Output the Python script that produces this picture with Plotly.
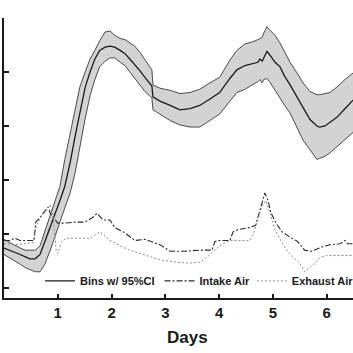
import plotly.graph_objects as go

# ---- data ----
bin_days = [0.00, 0.11, 0.20, 0.30, 0.39, 0.48, 0.58, 0.67, 0.76, 0.86, 0.95, 1.04, 1.13, 1.23,
            1.32, 1.41, 1.51, 1.60, 1.69, 1.78, 1.88, 1.97, 2.06, 2.16, 2.25, 2.34, 2.43, 2.53,
            2.62, 2.71, 2.75, 2.77, 2.90, 3.09, 3.27, 3.46, 3.64, 3.83, 4.01, 4.20, 4.33, 4.48,
            4.63, 4.72, 4.76, 4.80, 4.83, 4.89, 4.94, 5.04, 5.13, 5.22, 5.32, 5.45, 5.56, 5.69,
            5.82, 5.87, 5.97, 6.06, 6.19, 6.34, 6.49]
bin_mean = [23.7, 23.5, 23.3, 23.1, 22.9, 22.7, 22.7, 23.1, 24.3, 25.6, 26.8, 28.1, 29.4, 31.6,
            34.0, 36.3, 38.6, 40.0, 41.2, 42.0, 42.3, 42.4, 42.3, 42.0, 41.7, 41.2, 40.7, 40.1,
            39.5, 39.0, 38.7, 37.7, 37.3, 36.9, 36.5, 36.6, 36.9, 37.5, 38.1, 39.4, 40.2, 40.6,
            40.8, 40.9, 41.2, 41.0, 41.3, 41.9, 41.6, 40.9, 40.5, 39.6, 38.8, 37.7, 36.7, 35.6,
            35.0, 34.9, 35.0, 35.3, 35.8, 36.6, 37.4]
bin_upper = [24.5, 24.2, 23.9, 23.7, 23.5, 23.5, 23.5, 23.9, 25.2, 26.7, 28.0, 29.4, 31.9, 34.4,
             36.6, 38.6, 40.0, 41.2, 42.0, 42.9, 43.7, 43.8, 43.4, 43.1, 43.0, 42.7, 42.4, 41.8,
             41.1, 40.5, 40.2, 38.8, 38.5, 38.3, 38.0, 38.1, 38.4, 39.0, 39.5, 41.1, 42.0, 42.6,
             42.8, 43.0, 43.1, 43.2, 43.6, 44.2, 43.9, 43.4, 42.7, 41.8, 40.9, 39.9, 39.0, 38.2,
             37.9, 37.9, 38.0, 38.1, 38.6, 39.3, 39.9]
bin_lower = [23.1, 22.8, 22.5, 22.2, 21.9, 21.7, 21.5, 21.5, 22.2, 23.5, 24.9, 26.1, 27.4, 28.8,
             30.6, 33.2, 35.7, 37.8, 39.3, 40.5, 41.0, 41.3, 41.3, 40.9, 40.6, 40.0, 39.4, 38.8,
             38.2, 37.8, 37.6, 36.5, 36.1, 35.5, 35.1, 34.9, 34.9, 35.5, 36.1, 37.3, 38.1, 38.4,
             38.8, 39.1, 39.3, 39.0, 39.3, 39.4, 39.1, 38.3, 37.7, 36.9, 36.2, 34.9, 33.7, 32.8,
             31.9, 32.0, 32.2, 32.5, 33.1, 33.7, 34.4]

intake_days = [0.00, 0.11, 0.20, 0.30, 0.39, 0.48, 0.56, 0.59, 0.67, 0.74, 0.82, 0.86, 0.93, 1.00,
               1.13, 1.32, 1.51, 1.64, 1.73, 1.84, 1.97, 2.06, 2.25, 2.43, 2.62, 2.81, 2.90, 3.09,
               3.36, 3.64, 3.87, 3.92, 4.01, 4.20, 4.26, 4.35, 4.57, 4.68, 4.74, 4.80, 4.85, 4.91,
               4.96, 5.06, 5.17, 5.32, 5.46, 5.59, 5.72, 5.82, 5.91, 6.06, 6.25, 6.34, 6.39, 6.49]
intake_air = [24.4, 24.4, 24.6, 24.4, 24.4, 24.4, 24.4, 26.1, 26.5, 27.0, 27.5, 26.9, 26.5, 26.0,
              26.0, 26.1, 26.1, 26.5, 26.9, 26.3, 26.3, 25.6, 25.1, 24.4, 24.5, 24.2, 24.0, 23.4,
              23.4, 23.5, 23.5, 24.3, 24.4, 24.4, 25.2, 25.4, 25.6, 25.8, 26.8, 28.0, 28.8, 28.1,
              27.0, 26.0, 25.2, 24.7, 24.3, 23.5, 23.4, 23.6, 23.8, 24.0, 24.1, 24.4, 24.1, 24.1]

exhaust_days = [0.00, 0.20, 0.39, 0.54, 0.58, 0.67, 0.76, 0.86, 0.91, 0.97, 1.00, 1.06, 1.15, 1.32,
                1.60, 1.69, 1.78, 1.88, 1.97, 2.16, 2.34, 2.53, 2.71, 2.90, 3.18, 3.46, 3.64, 3.74,
                3.83, 3.92, 4.01, 4.11, 4.20, 4.57, 4.63, 4.72, 4.80, 4.87, 4.94, 5.04, 5.19, 5.32,
                5.50, 5.59, 5.69, 5.78, 5.87, 6.00, 6.49]
exhaust_air = [24.1, 24.0, 24.1, 24.2, 25.4, 26.5, 27.0, 27.7, 26.8, 23.5, 23.2, 24.2, 24.6, 24.6,
               24.6, 24.9, 25.2, 24.8, 24.4, 23.9, 23.5, 23.2, 22.9, 22.6, 22.4, 22.3, 22.4, 22.7,
               23.1, 23.5, 23.9, 24.2, 24.4, 24.4, 24.9, 26.3, 27.6, 28.1, 27.0, 25.4, 24.0, 23.1,
               22.3, 21.5, 21.9, 22.3, 22.8, 23.0, 23.0]

series_names = ["Bins w/ 95%CI", "Intake Air", "Exhaust Air"]
x_ticks = [1, 2, 3, 4, 5, 6]
y_ticks = [20, 25, 30, 35, 40]
x_title = "Days"

FONT = "Liberation Sans"
legend_style = dict(orientation="h", traceorder="normal", xanchor="left", y=0.061,
                    yanchor="middle", bgcolor="rgba(0,0,0,0)",
                    font=dict(family=FONT, size=11, weight="bold"), tracegroupgap=0)

fig = go.Figure()
fig.add_trace(go.Scatter(x=bin_days, y=bin_upper, mode="lines",
                         line=dict(color="#4a4a4a", width=1), showlegend=False, hoverinfo="skip"))
fig.add_trace(go.Scatter(x=bin_days, y=bin_lower, mode="lines", fill="tonexty",
                         fillcolor="#d3d3d3",
                         line=dict(color="#4a4a4a", width=1), showlegend=False, hoverinfo="skip"))
fig.add_trace(go.Scatter(x=bin_days, y=bin_mean, mode="lines", name=series_names[0],
                         line=dict(color="#1a1a1a", width=1.3)))
fig.add_trace(go.Scatter(x=intake_days, y=intake_air, mode="lines", name=series_names[1],
                         line=dict(color="#2a2a2a", width=1.1, dash="6px,2px,2px,2px")))
fig.add_trace(go.Scatter(x=exhaust_days, y=exhaust_air, mode="lines", name=series_names[2],
                         legend="legend2",
                         line=dict(color="#8a8a8a", width=1, dash="2px,2px")))

fig.update_layout(
    width=353, height=353,
    margin=dict(l=4, r=0, t=18, b=55, autoexpand=False),
    paper_bgcolor="white", plot_bgcolor="white",
    font=dict(family=FONT, color="#1a1a1a"),
    showlegend=True,
    legend=dict(x=0.103, **legend_style),
    legend2=dict(x=0.71, **legend_style),
    xaxis=dict(range=[0, 6.49], tickvals=x_ticks, ticks="inside", ticklen=4, tickwidth=2,
               tickcolor="#1a1a1a", showline=True, linecolor="#1a1a1a", linewidth=2,
               showgrid=False, zeroline=False, automargin=False,
               tickfont=dict(family=FONT, size=15, weight="bold")),
    yaxis=dict(range=[19.07, 45], tickvals=y_ticks, ticks="inside", ticklen=5, tickwidth=2,
               tickcolor="#1a1a1a", showline=True, linecolor="#1a1a1a", linewidth=2,
               showgrid=False, zeroline=False, showticklabels=False, automargin=False),
    annotations=[dict(text=x_title, x=3.42, xref="x", y=-(337 - 298) / 280, yref="paper",
                      yanchor="middle", showarrow=False,
                      font=dict(family=FONT, size=17, weight="bold"))],
)

fig.write_html("out.html")
